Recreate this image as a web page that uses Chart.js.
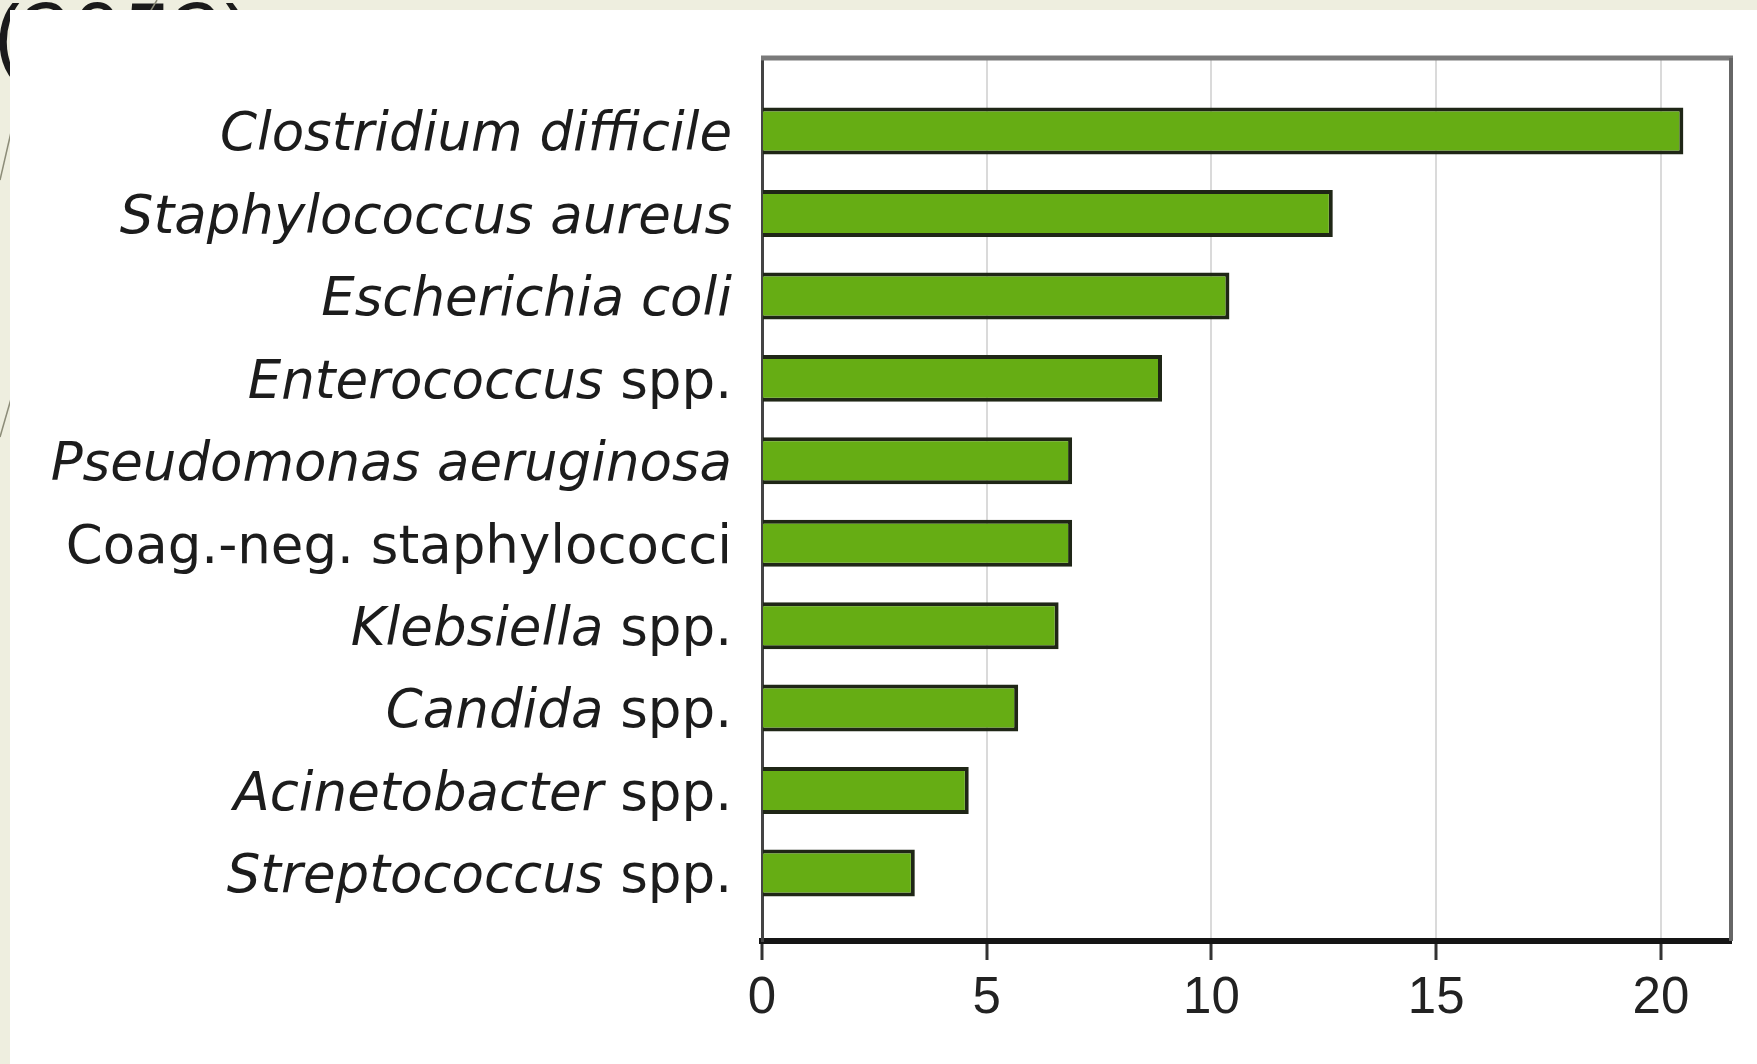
<!DOCTYPE html>
<html>
<head>
<meta charset="utf-8">
<script src="https://cdn.jsdelivr.net/npm/chart.js@4"></script>
<style>
  html, body { margin: 0; padding: 0; }
  body { width: 1757px; height: 1064px; background: #eeeedf; position: relative; overflow: hidden; }
  #heading { position: absolute; left: -4px; top: -12px; font: 88px/88px "Open Sans", sans-serif; color: #1a1a1a; white-space: nowrap; }
  #deco { position: absolute; left: 0; top: 0; }
  #panel { position: absolute; left: 10px; top: 10px; right: 0; bottom: 0; background: #fff; }
  #chart { position: absolute; left: 0; top: 0; }
</style>
</head>
<body>
<div id="heading">(2052)</div>
<svg id="deco" width="200" height="500">
  <line x1="157" y1="0" x2="100" y2="97" stroke="#8c8c78" stroke-width="1.5"/>
  <line x1="12" y1="128" x2="0" y2="180" stroke="#8c8c78" stroke-width="1.5"/>
  <line x1="13" y1="392" x2="0" y2="437" stroke="#8c8c78" stroke-width="1.5"/>
</svg>
<div id="panel"></div>
<canvas id="chart" width="1757" height="1064"></canvas>
<script>
// species names: italic genus/species part and upright suffix
const labelItalic = ["Clostridium difficile", "Staphylococcus aureus", "Escherichia coli", "Enterococcus",
  "Pseudomonas aeruginosa", "", "Klebsiella", "Candida", "Acinetobacter", "Streptococcus"];
const labelPlain = ["", "", "", "spp.", "", "Coag.-neg. staphylococci", "spp.", "spp.", "spp.", "spp."];
const values = [20.5, 12.7, 10.4, 8.9, 6.9, 6.9, 6.6, 5.7, 4.6, 3.4];
const xTicks = [0, 5, 10, 15, 20];

// top and right edges of the plot frame
const frame = {
  id: "frame",
  afterDraw(chart) {
    const { ctx, chartArea: a } = chart;
    ctx.save();
    ctx.strokeStyle = "#7a7a7a";
    ctx.lineWidth = 5;
    ctx.beginPath();
    ctx.moveTo(a.left - 1, a.top);
    ctx.lineTo(a.right + 2, a.top);
    ctx.stroke();
    ctx.strokeStyle = "#666";
    ctx.lineWidth = 4;
    ctx.beginPath();
    ctx.moveTo(a.right, a.top);
    ctx.lineTo(a.right, a.bottom);
    ctx.stroke();
    ctx.restore();
  }
};

// category labels with mixed italic / upright text
const speciesLabels = {
  id: "speciesLabels",
  afterDraw(chart) {
    const ctx = chart.ctx;
    const yScale = chart.scales.y;
    const size = 53;
    const right = 732;
    ctx.save();
    ctx.fillStyle = "#1c1c1c";
    ctx.textAlign = "right";
    ctx.textBaseline = "alphabetic";
    labelItalic.forEach((name, i) => {
      const py = yScale.getPixelForValue(i) + size * 0.365;
      let x = right;
      if (labelPlain[i]) {
        ctx.font = `${size}px "DejaVu Sans"`;
        ctx.fillText(labelPlain[i], x, py);
        x -= ctx.measureText(labelPlain[i] + " ").width;
      }
      if (name) {
        ctx.font = `italic ${size}px "DejaVu Sans"`;
        ctx.fillText(name, x, py);
      }
    });
    ctx.restore();
  }
};

new Chart(document.getElementById("chart"), {
  type: "bar",
  data: {
    datasets: [{
      data: values.map((v, i) => ({ x: v, y: i })),
      backgroundColor: "#66ad14",
      borderColor: "#1f2616",
      borderWidth: 4,
      categoryPercentage: 1,
      barPercentage: 0.57
    }]
  },
  options: {
    indexAxis: "y",
    responsive: false,
    animation: false,
    layout: { padding: { top: 58, right: 26, left: 0, bottom: 0 } },
    plugins: { legend: { display: false }, tooltip: { enabled: false } },
    scales: {
      x: {
        type: "linear",
        min: 0,
        max: 21.56,
        afterBuildTicks: s => { s.ticks = xTicks.map(v => ({ value: v })); },
        afterFit: s => { s.height = 123; },
        ticks: { color: "#222", font: { family: "'Liberation Sans'", size: 51 }, padding: 8 },
        grid: { color: "#dadada", lineWidth: 2, tickColor: "#333", tickWidth: 3, tickLength: 19 },
        border: { color: "#151515", width: 6 }
      },
      y: {
        type: "linear",
        reverse: true,
        min: -0.887,
        max: 9.826,
        afterBuildTicks: s => { s.ticks = []; },
        afterFit: s => { s.width = 762; },
        ticks: { display: false },
        grid: { display: false },
        border: { color: "#444", width: 3 }
      }
    }
  },
  plugins: [frame, speciesLabels]
});
</script>
</body>
</html>
